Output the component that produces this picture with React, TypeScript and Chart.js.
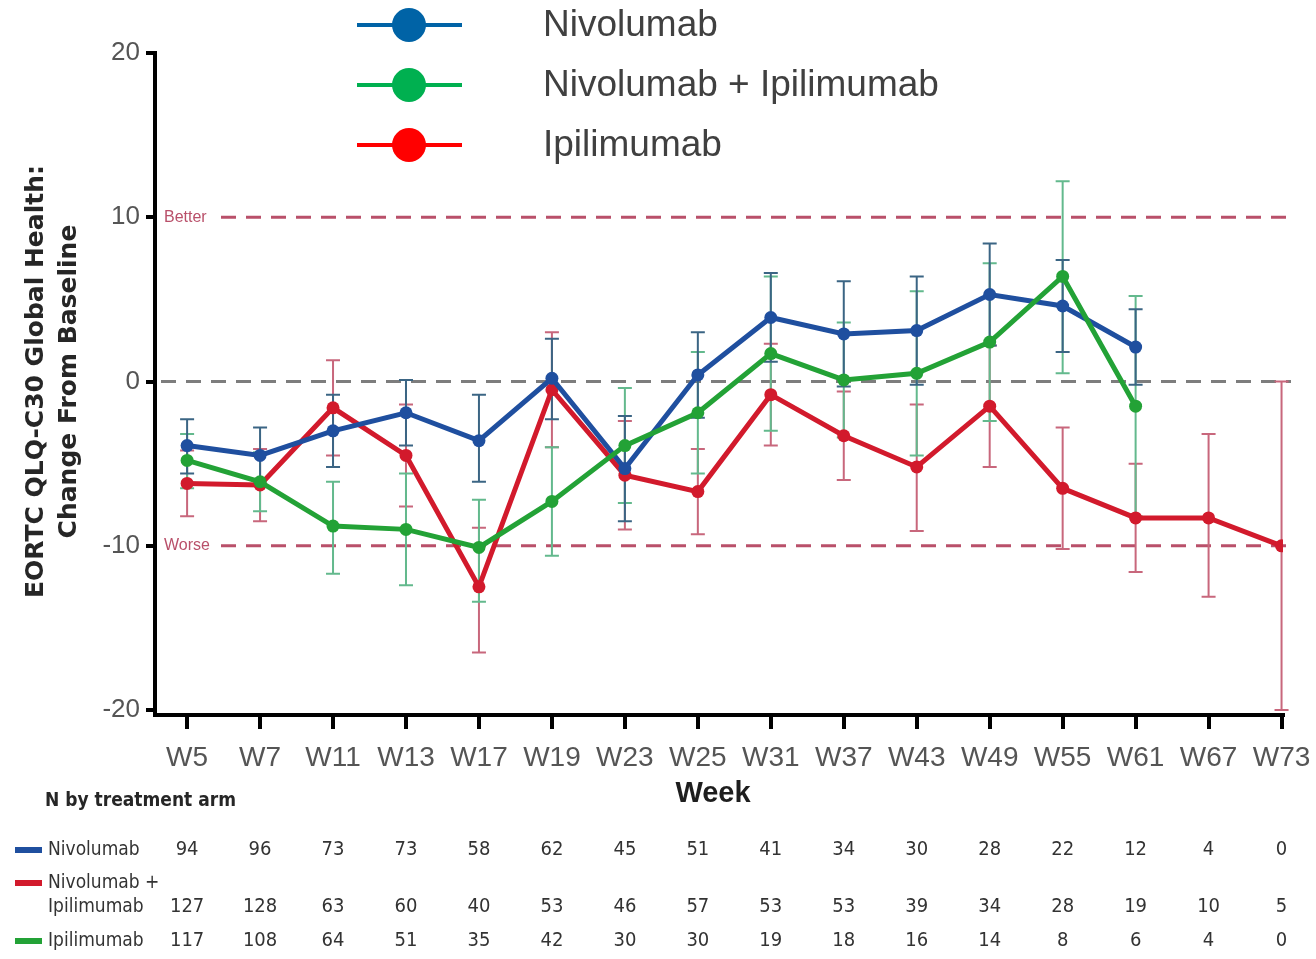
import React, { useEffect, useRef } from 'react';
import { Chart, registerables } from 'chart.js';
Chart.register(...registerables);

const weeks = ['W5', 'W7', 'W11', 'W13', 'W17', 'W19', 'W23', 'W25', 'W31', 'W37', 'W43', 'W49', 'W55', 'W61', 'W67', 'W73'];

// Nivolumab (blue)
const nivoMean = [-3.9, -4.5, -3.0, -1.9, -3.6, 0.2, -5.3, 0.4, 3.9, 2.9, 3.1, 5.3, 4.6, 2.1, null, null];
const nivoLower = [-5.6, -6.2, -5.2, -3.9, -6.1, -2.3, -8.5, -2.2, 1.2, -0.3, -0.2, 2.2, 1.8, -0.2, null, null];
const nivoUpper = [-2.3, -2.8, -0.8, 0.1, -0.8, 2.6, -2.1, 3.0, 6.6, 6.1, 6.4, 8.4, 7.4, 4.4, null, null];

// Nivolumab + Ipilimumab (green)
const comboMean = [-4.8, -6.1, -8.8, -9.0, -10.1, -7.3, -3.9, -1.9, 1.7, 0.1, 0.5, 2.4, 6.4, -1.5, null, null];
const comboLower = [-6.5, -7.9, -11.7, -12.4, -13.4, -10.6, -7.4, -5.6, -3.0, -3.4, -4.5, -2.4, 0.5, -8.2, null, null];
const comboUpper = [-3.2, -4.3, -6.1, -5.6, -7.2, -4.0, -0.4, 1.8, 6.4, 3.6, 5.5, 7.2, 12.2, 5.2, null, null];

// Ipilimumab (red)
const ipiMean = [-6.2, -6.3, -1.6, -4.5, -12.5, -0.5, -5.7, -6.7, -0.8, -3.3, -5.2, -1.5, -6.5, -8.3, -8.3, -10.0];
const ipiLower = [-8.2, -8.5, -4.5, -7.6, -16.5, -4.0, -9.0, -9.3, -3.9, -6.0, -9.1, -5.2, -10.2, -11.6, -13.1, -20.0];
const ipiUpper = [-4.2, -4.1, 1.3, -1.4, -8.9, 3.0, -2.4, -4.1, 2.3, -0.6, -1.4, 2.2, -2.8, -5.0, -3.2, 0.0];

// N by treatment arm table
const nNivo = [94, 96, 73, 73, 58, 62, 45, 51, 41, 34, 30, 28, 22, 12, 4, 0];
const nCombo = [127, 128, 63, 60, 40, 53, 46, 57, 53, 53, 39, 34, 28, 19, 10, 5];
const nIpi = [117, 108, 64, 51, 35, 42, 30, 30, 19, 18, 16, 14, 8, 6, 4, 0];

const yTickValues = [-20, -10, 0, 10, 20];
const betterValue = 10;
const worseValue = -10;
const baselineValue = 0;

const legendLabels = ['Nivolumab', 'Nivolumab + Ipilimumab', 'Ipilimumab'];
const tableTitle = 'N by treatment arm';
const tableRowLabels = [['Nivolumab'], ['Nivolumab +', 'Ipilimumab'], ['Ipilimumab']];
const yTitleLines = ['EORTC QLQ-C30 Global Health:', 'Change From Baseline'];
const xTitle = 'Week';

const BLUE = '#1f4f9f';
const GREEN = '#23a236';
const RED = '#d21a2c';
const LEG_BLUE = '#0063a6';
const LEG_GREEN = '#00b050';
const LEG_RED = '#ff0000';
const ERR_BLUE = '#3b6584';
const ERR_GREEN = '#63b98d';
const ERR_RED = '#c8677c';
const REF = '#b9506a';

const SANS = '"Liberation Sans", Arial, Helvetica, sans-serif';
const WIDE = '"DejaVu Sans", "Liberation Sans", sans-serif';
const NARROW = '"Liberation Sans Narrow", "DejaVu Sans Condensed", "Liberation Sans", sans-serif';

const toPoints = (arr: (number | null)[]) => arr.map((v, i) => ({ x: i, y: v }));

const errorSets = [
  { lower: ipiLower, upper: ipiUpper, color: ERR_RED },
  { lower: comboLower, upper: comboUpper, color: ERR_GREEN },
  { lower: nivoLower, upper: nivoUpper, color: ERR_BLUE },
];

const decorPlugin = {
  id: 'decor',
  beforeDatasetsDraw(chart: any) {
    const { ctx, scales } = chart;
    const xs = scales.x;
    const ys = scales.y;
    ctx.save();
    ctx.lineWidth = 3;
    ctx.setLineDash([15, 10]);
    ctx.strokeStyle = '#7d7d7d';
    const y0 = ys.getPixelForValue(baselineValue);
    ctx.beginPath();
    ctx.moveTo(xs.left + 6, y0);
    ctx.lineTo(xs.right + 8, y0);
    ctx.stroke();
    ctx.strokeStyle = REF;
    [betterValue, worseValue].forEach((v) => {
      const yy = ys.getPixelForValue(v);
      ctx.beginPath();
      ctx.moveTo(xs.left + 66, yy);
      ctx.lineTo(xs.right + 8, yy);
      ctx.stroke();
    });
    ctx.setLineDash([]);
    ctx.fillStyle = REF;
    ctx.font = `16px ${SANS}`;
    ctx.textAlign = 'left';
    ctx.textBaseline = 'middle';
    ctx.fillText('Better', xs.left + 9, ys.getPixelForValue(betterValue));
    ctx.fillText('Worse', xs.left + 9, ys.getPixelForValue(worseValue));

    ctx.lineWidth = 2;
    errorSets.forEach((s) => {
      ctx.strokeStyle = s.color;
      s.lower.forEach((lo, i) => {
        const hi = s.upper[i];
        if (lo === null || hi === null) return;
        const px = xs.getPixelForValue(i);
        const pl = ys.getPixelForValue(lo);
        const ph = ys.getPixelForValue(hi);
        ctx.beginPath();
        ctx.moveTo(px, pl);
        ctx.lineTo(px, ph);
        ctx.moveTo(px - 7, pl);
        ctx.lineTo(px + 7, pl);
        ctx.moveTo(px - 7, ph);
        ctx.lineTo(px + 7, ph);
        ctx.stroke();
      });
    });
    ctx.restore();
  },
  afterDraw(chart: any) {
    const { ctx, scales } = chart;
    const xs = scales.x;
    const ys = scales.y;
    ctx.save();
    const legColors = [LEG_BLUE, LEG_GREEN, LEG_RED];
    legendLabels.forEach((lab, i) => {
      const yy = 25 + i * 60;
      ctx.strokeStyle = legColors[i];
      ctx.lineWidth = 4;
      ctx.beginPath();
      ctx.moveTo(357, yy);
      ctx.lineTo(462, yy);
      ctx.stroke();
      ctx.fillStyle = legColors[i];
      ctx.beginPath();
      ctx.arc(409, yy, 17, 0, Math.PI * 2);
      ctx.fill();
      ctx.fillStyle = '#404040';
      ctx.font = `37px ${SANS}`;
      ctx.textAlign = 'left';
      ctx.textBaseline = 'middle';
      ctx.fillText(lab, 543, yy + 1);
    });

    ctx.fillStyle = '#262626';
    ctx.font = `bold 25px ${WIDE}`;
    ctx.textAlign = 'center';
    ctx.textBaseline = 'middle';
    const yc = ys.getPixelForValue(0);
    yTitleLines.forEach((t, i) => {
      ctx.save();
      ctx.translate(36 + i * 33, yc);
      ctx.rotate(-Math.PI / 2);
      ctx.fillText(t, 0, 0);
      ctx.restore();
    });

    ctx.font = `bold 29px ${SANS}`;
    ctx.fillStyle = '#1e1e1e';
    ctx.fillText(xTitle, (xs.left + xs.right) / 2 - 6, 794);

    ctx.fillStyle = '#262626';
    ctx.font = `bold 19px ${NARROW}`;
    ctx.textAlign = 'left';
    ctx.fillText(tableTitle, 45, 801);
    const rowY = [850, 907, 941];
    const swatchY = [850, 883, 941];
    const swatchColors = [BLUE, RED, GREEN];
    const rows = [nNivo, nCombo, nIpi];
    tableRowLabels.forEach((lines, r) => {
      ctx.strokeStyle = swatchColors[r];
      ctx.lineWidth = 6;
      ctx.beginPath();
      ctx.moveTo(15, swatchY[r]);
      ctx.lineTo(42, swatchY[r]);
      ctx.stroke();
      ctx.fillStyle = '#333';
      ctx.font = `19px ${NARROW}`;
      ctx.textAlign = 'left';
      lines.forEach((l, k) => {
        ctx.fillText(l, 48, swatchY[r] + k * 24);
      });
      ctx.font = `20px ${NARROW}`;
      ctx.textAlign = 'center';
      rows[r].forEach((n, i) => {
        ctx.fillText(String(n), xs.getPixelForValue(i), rowY[r]);
      });
    });
    ctx.restore();
  },
};

export default function App() {
  const ref = useRef<HTMLCanvasElement | null>(null);
  useEffect(() => {
    if (!ref.current) return;
    const mk = (label: string, data: (number | null)[], color: string, order: number) => ({
      label,
      data: toPoints(data),
      borderColor: color,
      backgroundColor: color,
      borderWidth: 5,
      pointRadius: 6.5,
      pointBorderWidth: 0,
      pointBackgroundColor: color,
      spanGaps: false,
      order,
    });
    const chart = new Chart(ref.current, {
      type: 'line',
      data: {
        datasets: [
          mk(legendLabels[0], nivoMean, BLUE, 2),
          mk(legendLabels[1], comboMean, GREEN, 1),
          mk(legendLabels[2], ipiMean, RED, 3),
        ],
      },
      options: {
        animation: false,
        responsive: false,
        layout: { padding: { left: 0, top: 53, right: 33, bottom: 184 } },
        plugins: { legend: { display: false }, tooltip: { enabled: false } },
        scales: {
          x: {
            type: 'linear',
            min: -0.44,
            max: 15.02,
            afterBuildTicks: (axis: any) => {
              axis.ticks = weeks.map((_, i) => ({ value: i }));
            },
            afterFit: (axis: any) => {
              axis.height = 60;
              axis.paddingLeft = 0;
              axis.paddingRight = 0;
            },
            ticks: {
              callback: (v: any) => weeks[Math.round(Number(v))] ?? '',
              color: '#555',
              font: { size: 28, family: SANS },
              padding: 12,
              maxRotation: 0,
              autoSkip: false,
            },
            grid: {
              display: true,
              drawOnChartArea: false,
              drawTicks: true,
              tickLength: 14,
              color: '#000',
              lineWidth: 4,
            },
            border: { display: true, color: '#000', width: 4 },
          },
          y: {
            type: 'linear',
            min: -20.3,
            max: 20,
            afterBuildTicks: (axis: any) => {
              axis.ticks = yTickValues.map((v) => ({ value: v }));
            },
            afterFit: (axis: any) => {
              axis.width = 155;
              axis.paddingTop = 0;
              axis.paddingBottom = 0;
            },
            ticks: {
              color: '#555',
              font: { size: 26, family: SANS },
              padding: 6,
            },
            grid: {
              display: true,
              drawOnChartArea: false,
              drawTicks: true,
              tickLength: 9,
              color: '#000',
              lineWidth: 4,
            },
            border: { display: true, color: '#000', width: 4 },
          },
        },
      },
      plugins: [decorPlugin],
    });
    return () => chart.destroy();
  }, []);
  return (
    <div style={{ position: 'absolute', left: 0, top: 0, width: 1316, height: 959, background: '#fff' }}>
      <canvas ref={ref} width={1316} height={959} style={{ width: 1316, height: 959, display: 'block' }} />
    </div>
  );
}
